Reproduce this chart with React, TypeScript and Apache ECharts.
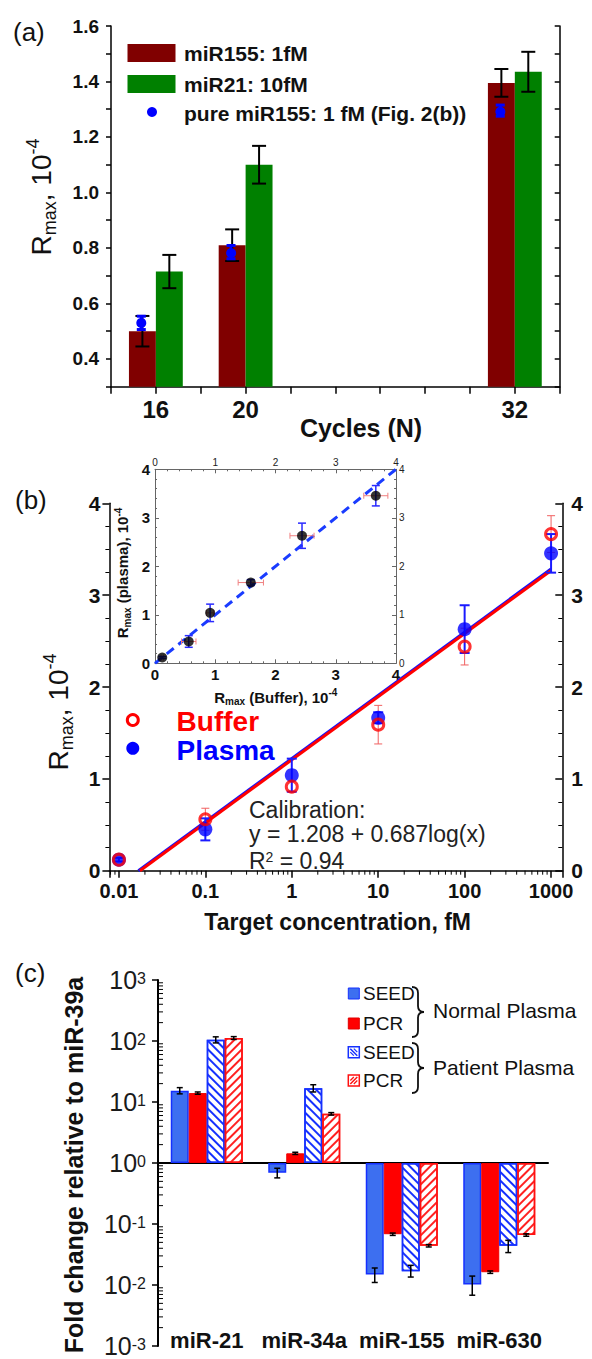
import React, { useEffect, useRef } from 'react';
import * as echarts from 'echarts';

const FONT = '"Liberation Sans", Arial, Helvetica, sans-serif';

// ---------- Panel (a) ----------
const cycles = [16, 20, 32];
const cycleTickLabels = [16, 20, 32];
const mir155 = [0.5, 0.81, 1.395];
const mir155Err = [0.055, 0.057, 0.05];
const mir21 = [0.715, 1.1, 1.435];
const mir21Err = [0.06, 0.068, 0.072];
const pure155 = [0.53, 0.785, 1.295];
const pure155Err = [0.024, 0.024, 0.02];

// ---------- Panel (b) ----------
const concentrations = [0.01, 0.1, 1, 10, 100, 1000];
const bufferR = [0.12, 0.56, 0.915, 1.59, 2.44, 3.665];
const bufferErr = [0.02, 0.12, 0.06, 0.21, 0.2, 0.2];
const plasmaR = [0.12, 0.45, 1.04, 1.665, 2.63, 3.455];
const plasmaErr = [0.02, 0.12, 0.18, 0.06, 0.26, 0.21];
const fitBuffer = [[0.0175, 0], [1000, 3.269]];
const fitPlasma = [[0.0168, 0], [1000, 3.285]];
const identityLine = [[0, 0], [4, 4]];

// ---------- Panel (c) ----------
const mirnas = ['miR-21', 'miR-34a', 'miR-155', 'miR-630'];
const seedNormal = [15.3, 0.69, 0.0148, 0.0102];
const seedNormalErr = [[13.6, 17.2], [0.57, 0.82], [0.011, 0.019], [0.0068, 0.014]];
const pcrNormal = [14.0, 1.44, 0.068, 0.0162];
const pcrNormalErr = [[13.4, 14.6], [1.38, 1.5], [0.065, 0.071], [0.0155, 0.017]];
const seedPatient = [105, 16.8, 0.0168, 0.044];
const seedPatientErr = [[93, 117], [14.6, 19.2], [0.0135, 0.021], [0.034, 0.054]];
const pcrPatient = [112, 6.4, 0.044, 0.066];
const pcrPatientErr = [[106, 118], [6.1, 6.7], [0.042, 0.046], [0.063, 0.069]];

const BLUE_C = '#3d6ff0';
const BLUE_EDGE = '#1530ff';
const RED_C = '#ff0000';

const Brace = echarts.graphic.extendPath('M0,0 Q6,0 6,6 L6,19 Q6,25 12,25 Q6,25 6,31 L6,44 Q6,50 0,50', {});
echarts.graphic.registerShape('brace', Brace);

const errBar = (color: string, lw: number, cap: number, dx = 0, dxPx = 0) => (params: any, api: any) => {
  const x = api.value(0) + dx;
  const a = api.coord([x, api.value(1)]);
  const b = api.coord([x, api.value(2)]);
  const cx = a[0] + dxPx;
  const st = { stroke: color, lineWidth: lw };
  return {
    type: 'group',
    children: [
      { type: 'line', shape: { x1: cx, y1: a[1], x2: cx, y2: b[1] }, style: st },
      { type: 'line', shape: { x1: cx - cap, y1: a[1], x2: cx + cap, y2: a[1] }, style: st },
      { type: 'line', shape: { x1: cx - cap, y1: b[1], x2: cx + cap, y2: b[1] }, style: st },
    ],
  };
};

const errBarH = (color: string, lw: number, cap: number) => (params: any, api: any) => {
  const y = api.value(0);
  const a = api.coord([api.value(1), y]);
  const b = api.coord([api.value(2), y]);
  const st = { stroke: color, lineWidth: lw };
  return {
    type: 'group',
    children: [
      { type: 'line', shape: { x1: a[0], y1: a[1], x2: b[0], y2: b[1] }, style: st },
      { type: 'line', shape: { x1: a[0], y1: a[1] - cap, x2: a[0], y2: a[1] + cap }, style: st },
      { type: 'line', shape: { x1: b[0], y1: b[1] - cap, x2: b[0], y2: b[1] + cap }, style: st },
    ],
  };
};

const A_MIN = 0.3;
const barRect = (x0: number, x1: number, color: string) => (params: any, api: any) => {
  const x = api.value(0);
  const tl = api.coord([x + x0, api.value(1)]);
  const br = api.coord([x + x1, A_MIN]);
  return { type: 'rect', shape: { x: tl[0], y: tl[1], width: br[0] - tl[0], height: br[1] - tl[1] }, style: { fill: color } };
};

const dotRender = (dx: number, r: number, color: string) => (params: any, api: any) => {
  const p = api.coord([api.value(0) + dx, api.value(1)]);
  return { type: 'circle', shape: { cx: p[0], cy: p[1], r }, style: { fill: color } };
};

// log minor tick positions
const logMinor = (lo: number, hi: number) => {
  const out: number[] = [];
  for (let e = -4; e <= 4; e++) for (let k = 2; k <= 9; k++) {
    const v = k * Math.pow(10, e);
    if (v > lo && v < hi) out.push(v);
  }
  return out;
};

const txt = (x: number, y: number, text: string, size: number, opts: any = {}) => ({
  type: 'text', x, y, rotation: opts.rotation || 0, z: 100,
  style: {
    text, fill: opts.color || '#111', fontSize: size, fontWeight: opts.bold ? 'bold' : 'normal', fontFamily: FONT,
    align: opts.align || 'left', textAlign: opts.align || 'left', verticalAlign: 'middle', textVerticalAlign: 'middle',
    rich: opts.rich,
  },
});

const rmaxRich = (big: number, small: number, bold = false) => ({
  r: { fontSize: big, fontFamily: FONT, fill: '#111', color: '#111', fontWeight: bold ? 'bold' : 'normal', lineHeight: Math.round(big * 1.25) },
  s: { fontSize: small, fontFamily: FONT, fill: '#111', color: '#111', verticalAlign: 'bottom', fontWeight: bold ? 'bold' : 'normal' },
  p: { fontSize: small, fontFamily: FONT, fill: '#111', color: '#111', verticalAlign: 'top', fontWeight: bold ? 'bold' : 'normal' },
});

const axLine = (color = '#000', width = 1.5) => ({ show: true, onZero: false, lineStyle: { color, width } });

export default function App() {
  const ref = useRef<HTMLDivElement>(null);
  useEffect(() => {
    if (!ref.current) return;
    const chart = echarts.init(ref.current, null, { renderer: 'svg' });
    const boldLbl = (size: number, margin: number, extra: any = {}) => ({
      fontSize: size, fontWeight: 'bold', color: '#111', fontFamily: FONT, margin, ...extra,
    });
    const bMin = 0.00776, bMax = 1349;

    const option: any = {
      animation: false,
      grid: [
        { left: 111, top: 26, width: 448.7, height: 360.7 },
        { left: 109.4, top: 503.3, width: 452.9, height: 367.4 },
        { left: 155, top: 469.3, width: 241, height: 194 },
        { left: 158, top: 980, width: 390, height: 366 },
      ],
      xAxis: [
        {
          gridIndex: 0, type: 'value', min: 14, max: 34, interval: 2,
          axisLine: axLine(), axisTick: { show: true, length: 7, lineStyle: { color: '#000', width: 1.5 } },
          axisLabel: boldLbl(24, 11, { formatter: (v: number) => (cycleTickLabels.includes(v) ? String(v) : '') }),
          splitLine: { show: false },
        },
        {
          gridIndex: 1, type: 'log', logBase: 10, min: bMin, max: bMax,
          axisLine: axLine(), axisTick: { show: true, length: 7, lineStyle: { color: '#000', width: 1.5 } },
          axisLabel: boldLbl(20, 10, {
            showMinLabel: true, showMaxLabel: true,
            formatter: (v: number) => {
              const l = Math.log10(v);
              return Math.abs(l - Math.round(l)) < 1e-6 ? String(Number(v.toPrecision(3))) : '';
            },
          }),
          splitLine: { show: false },
        },
        {
          gridIndex: 2, type: 'value', min: 0, max: 4, interval: 1, position: 'bottom',
          axisLine: axLine('#666', 1), axisTick: { show: true, inside: true, length: 4, lineStyle: { color: '#666' } },
          minorTick: { show: true, splitNumber: 5, length: 2, lineStyle: { color: '#666' } },
          axisLabel: boldLbl(15, 4), splitLine: { show: false },
        },
        {
          gridIndex: 2, type: 'value', min: 0, max: 4, interval: 1, position: 'top',
          axisLine: axLine('#666', 1), axisTick: { show: true, inside: true, length: 4, lineStyle: { color: '#666' } },
          minorTick: { show: true, splitNumber: 5, length: 2, lineStyle: { color: '#666' } },
          axisLabel: { fontSize: 10, color: '#222', fontFamily: FONT, margin: 2 }, splitLine: { show: false },
        },
        {
          gridIndex: 3, type: 'category', data: mirnas,
          axisLine: { show: true, onZero: true, lineStyle: { color: '#000', width: 2 } },
          axisTick: { show: false }, axisLabel: { show: false },
        },
        {
          gridIndex: 3, type: 'category', data: mirnas, position: 'bottom',
          axisLine: { show: false, onZero: false }, axisTick: { show: false },
          axisLabel: boldLbl(22, -17, { interval: 0, hideOverlap: false }),
        },
      ],
      yAxis: [
        {
          gridIndex: 0, type: 'value', min: A_MIN, max: 1.6, interval: 0.1, position: 'left',
          axisLine: axLine(), axisTick: { show: true, length: 5, lineStyle: { color: '#000', width: 1.5 } },
          axisLabel: boldLbl(19, 12, { formatter: (v: number) => (Math.round(v * 10) % 2 === 0 ? v.toFixed(1) : '') }),
          splitLine: { show: false },
        },
        {
          gridIndex: 0, type: 'value', min: A_MIN, max: 1.6, interval: 0.1, position: 'right',
          axisLine: axLine(), axisTick: { show: true, inside: true, length: 5, lineStyle: { color: '#000', width: 1.5 } },
          axisLabel: { show: false }, splitLine: { show: false },
        },
        {
          gridIndex: 1, type: 'value', min: 0, max: 4, interval: 1, position: 'left',
          axisLine: axLine(), axisTick: { show: true, length: 7, lineStyle: { color: '#000', width: 1.5 } },
          minorTick: { show: true, splitNumber: 4, length: 4, lineStyle: { color: '#000', width: 1 } },
          axisLabel: boldLbl(21, 9), splitLine: { show: false },
        },
        {
          gridIndex: 1, type: 'value', min: 0, max: 4, interval: 1, position: 'right',
          axisLine: axLine(), axisTick: { show: true, inside: true, length: 7, lineStyle: { color: '#000', width: 1.5 } },
          minorTick: { show: true, splitNumber: 4, length: 4, lineStyle: { color: '#000', width: 1 } },
          axisLabel: boldLbl(21, 9), splitLine: { show: false },
        },
        {
          gridIndex: 2, type: 'value', min: 0, max: 4, interval: 1, position: 'left',
          axisLine: axLine('#666', 1), axisTick: { show: true, inside: true, length: 4, lineStyle: { color: '#666' } },
          minorTick: { show: true, splitNumber: 5, length: 2, lineStyle: { color: '#666' } },
          axisLabel: boldLbl(15, 5), splitLine: { show: false },
        },
        {
          gridIndex: 2, type: 'value', min: 0, max: 4, interval: 1, position: 'right',
          axisLine: axLine('#666', 1), axisTick: { show: true, inside: true, length: 4, lineStyle: { color: '#666' } },
          minorTick: { show: true, splitNumber: 5, length: 2, lineStyle: { color: '#666' } },
          axisLabel: { fontSize: 10, color: '#222', fontFamily: FONT, margin: 3 }, splitLine: { show: false },
        },
        {
          gridIndex: 3, type: 'value', min: -3, max: 3, interval: 1, position: 'left',
          axisLine: axLine('#000', 2), axisTick: { show: true, length: 6, lineStyle: { color: '#000', width: 1.5 } },
          axisLabel: {
            margin: 12,
            formatter: (v: number) => `{b|10}{s|${v}}`,
            rich: {
              b: { fontSize: 25, fontFamily: FONT, color: '#1a1a1a', lineHeight: 20 },
              s: { fontSize: 16, fontFamily: FONT, color: '#1a1a1a', verticalAlign: 'top', lineHeight: 20, padding: [0, 0, 4, 0] },
            },
          },
          splitLine: { show: false },
        },
      ],
      series: [
        // ----- (a)
        { type: 'custom', xAxisIndex: 0, yAxisIndex: 0, renderItem: barRect(-1.2, 0, '#800000'), data: cycles.map((c, i) => [c, mir155[i]]) },
        { type: 'custom', xAxisIndex: 0, yAxisIndex: 0, renderItem: barRect(0, 1.2, '#008000'), data: cycles.map((c, i) => [c, mir21[i]]) },
        { type: 'custom', xAxisIndex: 0, yAxisIndex: 0, z: 5, renderItem: errBar('#000', 2, 7, -0.6), data: cycles.map((c, i) => [c, mir155[i] - mir155Err[i], mir155[i] + mir155Err[i]]) },
        { type: 'custom', xAxisIndex: 0, yAxisIndex: 0, z: 5, renderItem: errBar('#000', 2, 7, 0.6), data: cycles.map((c, i) => [c, mir21[i] - mir21Err[i], mir21[i] + mir21Err[i]]) },
        { type: 'custom', xAxisIndex: 0, yAxisIndex: 0, z: 6, renderItem: errBar('#0000ff', 3, 4.5, -0.65), data: cycles.map((c, i) => [c, pure155[i] - pure155Err[i], pure155[i] + pure155Err[i]]) },
        { type: 'custom', xAxisIndex: 0, yAxisIndex: 0, z: 7, renderItem: dotRender(-0.65, 5, '#0000ff'), data: cycles.map((c, i) => [c, pure155[i]]) },

        // ----- (b)
        { type: 'line', xAxisIndex: 1, yAxisIndex: 2, data: fitPlasma, showSymbol: false, z: 2, lineStyle: { color: '#1010ff', width: 3 } },
        { type: 'line', xAxisIndex: 1, yAxisIndex: 2, data: fitBuffer, showSymbol: false, z: 3, lineStyle: { color: '#ff0000', width: 3 } },
        { type: 'custom', xAxisIndex: 1, yAxisIndex: 2, z: 4, renderItem: errBar('#f06060', 1, 4), data: concentrations.map((c, i) => [c, bufferR[i] - bufferErr[i], bufferR[i] + bufferErr[i]]) },
        { type: 'custom', xAxisIndex: 1, yAxisIndex: 2, z: 4, renderItem: errBar('#1a1aff', 2, 5), data: concentrations.map((c, i) => [c, plasmaR[i] - plasmaErr[i], plasmaR[i] + plasmaErr[i]]) },
        { type: 'scatter', xAxisIndex: 1, yAxisIndex: 2, z: 5, symbol: 'circle', symbolSize: 14, itemStyle: { color: '#0000ff' }, data: concentrations.map((c, i) => [c, plasmaR[i]]) },
        { type: 'scatter', xAxisIndex: 1, yAxisIndex: 2, z: 6, symbol: 'circle', symbolSize: 11, itemStyle: { color: 'rgba(0,0,0,0)', borderColor: '#ff0000', borderWidth: 3 }, data: concentrations.map((c, i) => [c, bufferR[i]]) },
        {
          type: 'custom', xAxisIndex: 1, yAxisIndex: 2, z: 3,
          renderItem: (params: any, api: any) => {
            const p = api.coord([api.value(0), 0]);
            return { type: 'line', shape: { x1: p[0], y1: p[1], x2: p[0], y2: p[1] + 4 }, style: { stroke: '#000', lineWidth: 1 } };
          },
          data: logMinor(bMin, bMax).map((v) => [v, 0]),
        },

        // ----- inset
        { type: 'line', xAxisIndex: 2, yAxisIndex: 4, data: identityLine, showSymbol: false, z: 2, lineStyle: { color: '#1a3cff', width: 3, type: [9, 6] } },
        { type: 'custom', xAxisIndex: 2, yAxisIndex: 4, z: 3, renderItem: errBarH('#f08080', 1, 3), data: bufferR.map((b, i) => [plasmaR[i], b - bufferErr[i], b + bufferErr[i]]) },
        { type: 'custom', xAxisIndex: 2, yAxisIndex: 4, z: 3, renderItem: errBar('#2a2aff', 1.5, 4), data: bufferR.map((b, i) => [b, plasmaR[i] - plasmaErr[i], plasmaR[i] + plasmaErr[i]]) },
        { type: 'scatter', xAxisIndex: 2, yAxisIndex: 4, z: 5, symbolSize: 10, itemStyle: { color: '#000' }, data: bufferR.map((b, i) => [b, plasmaR[i]]) },

        // ----- (c)
        { type: 'bar', xAxisIndex: 4, yAxisIndex: 6, barWidth: 18, barGap: '0%', itemStyle: { color: BLUE_C, borderColor: BLUE_EDGE, borderWidth: 1.5 }, data: seedNormal.map((v) => Math.log10(v)) },
        { type: 'bar', xAxisIndex: 4, yAxisIndex: 6, barWidth: 18, barGap: '0%', itemStyle: { color: RED_C, borderColor: '#ee0000', borderWidth: 1 }, data: pcrNormal.map((v) => Math.log10(v)) },
        {
          type: 'bar', xAxisIndex: 4, yAxisIndex: 6, barWidth: 18, barGap: '0%',
          itemStyle: {
            color: '#ffffff', borderColor: BLUE_EDGE, borderWidth: 1.5,
            decal: { symbol: 'rect', symbolSize: 1, color: BLUE_EDGE, backgroundColor: '#ffffff', dashArrayX: [1, 0], dashArrayY: [2, 4], rotation: Math.PI / 4 },
          },
          data: seedPatient.map((v) => Math.log10(v)),
        },
        {
          type: 'bar', xAxisIndex: 4, yAxisIndex: 6, barWidth: 18, barGap: '0%',
          itemStyle: {
            color: '#ffffff', borderColor: '#ff1010', borderWidth: 1.5,
            decal: { symbol: 'rect', symbolSize: 1, color: '#ff2020', backgroundColor: '#ffffff', dashArrayX: [1, 0], dashArrayY: [2, 4], rotation: -Math.PI / 4 },
          },
          data: pcrPatient.map((v) => Math.log10(v)),
        },
        { type: 'custom', xAxisIndex: 4, yAxisIndex: 6, z: 5, renderItem: errBar('#000', 1.5, 3, 0, -27), data: seedNormalErr.map((e, i) => [i, Math.log10(e[0]), Math.log10(e[1])]) },
        { type: 'custom', xAxisIndex: 4, yAxisIndex: 6, z: 5, renderItem: errBar('#000', 1.5, 3, 0, -9), data: pcrNormalErr.map((e, i) => [i, Math.log10(e[0]), Math.log10(e[1])]) },
        { type: 'custom', xAxisIndex: 4, yAxisIndex: 6, z: 5, renderItem: errBar('#000', 1.5, 3, 0, 9), data: seedPatientErr.map((e, i) => [i, Math.log10(e[0]), Math.log10(e[1])]) },
        { type: 'custom', xAxisIndex: 4, yAxisIndex: 6, z: 5, renderItem: errBar('#000', 1.5, 3, 0, 27), data: pcrPatientErr.map((e, i) => [i, Math.log10(e[0]), Math.log10(e[1])]) },
        {
          type: 'custom', xAxisIndex: 4, yAxisIndex: 6, z: 3,
          renderItem: (params: any, api: any) => {
            const p = api.coord([0, api.value(1)]);
            const x = params.coordSys.x;
            return { type: 'line', shape: { x1: x, y1: p[1], x2: x + 5, y2: p[1] }, style: { stroke: '#000', lineWidth: 1 } };
          },
          data: logMinor(0.001, 1000).map((v) => [0, Math.log10(v)]),
        },
      ],
      graphic: [
        // panel labels
        txt(13, 32, '(a)', 26),
        txt(15, 500, '(b)', 26),
        txt(15, 973, '(c)', 26),
        // (a) titles
        txt(41.5, 197, '{r|R}{s|max}{r|, 10}{p|-4}', 28, { rotation: Math.PI / 2, align: 'center', rich: rmaxRich(28, 18) }),
        txt(361, 428, 'Cycles (N)', 25, { bold: true, align: 'center' }),
        // (a) legend
        { type: 'rect', shape: { x: 127.5, y: 44, width: 48, height: 18 }, style: { fill: '#800000' } },
        txt(184, 53, 'miR155: 1fM', 21, { bold: true }),
        { type: 'rect', shape: { x: 127.5, y: 75, width: 48, height: 18 }, style: { fill: '#008000' } },
        txt(184, 84, 'miR21: 10fM', 21, { bold: true }),
        { type: 'circle', shape: { cx: 152, cy: 112, r: 5 }, style: { fill: '#0000ff' } },
        txt(184, 113, 'pure miR155: 1 fM (Fig. 2(b))', 21, { bold: true }),
        // (b) titles
        txt(58.5, 712, '{r|R}{s|max}{r|, 10}{p|-4}', 28, { rotation: Math.PI / 2, align: 'center', rich: rmaxRich(28, 18) }),
        txt(337.7, 922, 'Target concentration, fM', 23, { bold: true, align: 'center' }),
        txt(275.8, 697, '{r|R}{s|max}{r| (Buffer), 10}{p|-4}', 15, { align: 'center', rich: rmaxRich(15, 10, true) }),
        txt(122.6, 573, '{r|R}{s|max}{r| (plasma), 10}{p|-4}', 15, { rotation: Math.PI / 2, align: 'center', rich: rmaxRich(15, 10, true) }),
        // (b) legend
        { type: 'circle', z: 100, shape: { cx: 132.8, cy: 720, r: 5.5 }, style: { fill: '#fff', stroke: '#ff0000', lineWidth: 3 } },
        txt(176.6, 721, 'Buffer', 28, { bold: true, color: '#ff0000' }),
        { type: 'circle', z: 100, shape: { cx: 132.8, cy: 748.3, r: 6.5 }, style: { fill: '#0000ff' } },
        txt(176.6, 750, 'Plasma', 28, { bold: true, color: '#0000ff' }),
        // calibration
        txt(249, 810, 'Calibration:', 23, { color: '#222' }),
        txt(249, 834, 'y = 1.208 + 0.687log(x)', 23, { color: '#222' }),
        txt(249, 861, '{r|R}{p|2}{r| = 0.94}', 23, {
          rich: {
            r: { fontSize: 23, fontFamily: FONT, fill: '#222', color: '#222' },
            p: { fontSize: 14, fontFamily: FONT, fill: '#222', color: '#222', verticalAlign: 'top' },
          },
        }),
        // (c) title
        txt(74, 1165, 'Fold change relative to miR-39a', 25, { bold: true, rotation: Math.PI / 2, align: 'center' }),
        // (c) legend
        { type: 'rect', z: 100, shape: { x: 348.3, y: 988, width: 11, height: 11 }, style: { fill: BLUE_C, stroke: BLUE_EDGE, lineWidth: 1 } },
        txt(363, 993.5, 'SEED', 19),
        { type: 'rect', z: 100, shape: { x: 348.3, y: 1018, width: 11, height: 11 }, style: { fill: RED_C, stroke: '#e00000', lineWidth: 1 } },
        txt(363, 1023.5, 'PCR', 19),
        { type: 'rect', z: 100, shape: { x: 348.3, y: 1046.7, width: 11, height: 11 }, style: { fill: '#fff', stroke: BLUE_EDGE, lineWidth: 1.5 } },
        { type: 'line', z: 101, shape: { x1: 350.3, y1: 1048.7, x2: 357.3, y2: 1055.7 }, style: { stroke: BLUE_EDGE, lineWidth: 1.5 } },
        { type: 'line', z: 101, shape: { x1: 353.8, y1: 1048.7, x2: 357.3, y2: 1052.2 }, style: { stroke: BLUE_EDGE, lineWidth: 1.2 } },
        { type: 'line', z: 101, shape: { x1: 350.3, y1: 1052.2, x2: 353.8, y2: 1055.7 }, style: { stroke: BLUE_EDGE, lineWidth: 1.2 } },
        txt(363, 1052, 'SEED', 19),
        { type: 'rect', z: 100, shape: { x: 348.3, y: 1075, width: 11, height: 11 }, style: { fill: '#fff', stroke: '#ff1010', lineWidth: 1.5 } },
        { type: 'line', z: 101, shape: { x1: 350.3, y1: 1084, x2: 357.3, y2: 1077 }, style: { stroke: '#ff1010', lineWidth: 1.5 } },
        { type: 'line', z: 101, shape: { x1: 350.3, y1: 1080.5, x2: 353.8, y2: 1077 }, style: { stroke: '#ff1010', lineWidth: 1.2 } },
        { type: 'line', z: 101, shape: { x1: 353.8, y1: 1084, x2: 357.3, y2: 1080.5 }, style: { stroke: '#ff1010', lineWidth: 1.2 } },
        txt(363, 1080.5, 'PCR', 19),
        { type: 'brace', z: 100, x: 412, y: 987, style: { fill: 'none', stroke: '#111', lineWidth: 1.8 } },
        { type: 'brace', z: 100, x: 412, y: 1043, style: { fill: 'none', stroke: '#111', lineWidth: 1.8 } },
        txt(433, 1010, 'Normal Plasma', 21),
        txt(433, 1067, 'Patient Plasma', 21),
      ],
    };
    chart.setOption(option);
    return () => chart.dispose();
  }, []);
  return <div ref={ref} style={{ position: 'absolute', left: 0, top: 0, width: 592, height: 1359, background: '#fff' }} />;
}
